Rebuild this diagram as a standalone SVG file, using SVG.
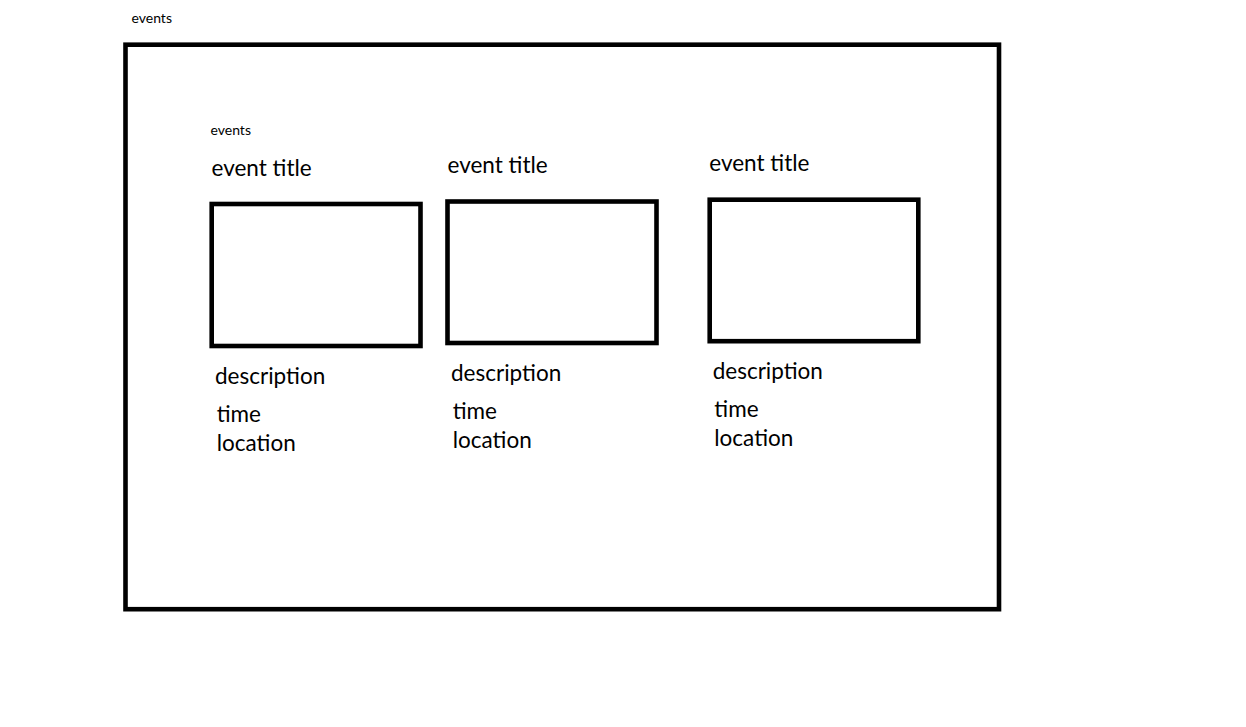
<svg xmlns="http://www.w3.org/2000/svg" width="1246" height="727" viewBox="0 0 1246 727">
<style>
.frame{fill:none;stroke:#000;stroke-width:4.6}
.sm{font-family:Lato,"Open Sans",sans-serif;font-size:14px;fill:#000}
.lg{font-family:Lato,"Open Sans",sans-serif;font-size:22.5px;fill:#000}
</style>
<rect width="1246" height="727" fill="#fff"/>
<g id="page">
<text class="sm" x="131.5" y="23">events</text>
<rect class="frame" x="125.5" y="44.7" width="873.5" height="564.5"/>
<text class="sm" x="210.5" y="135.3">events</text>
</g>
<g id="event1">
<text class="lg" x="211.5" y="176.3">event title</text>
<rect class="frame" x="211.7" y="204" width="208.8" height="142"/>
<text class="lg" x="215" y="384">description</text>
<text class="lg" x="216.7" y="422.3">time</text>
<text class="lg" x="216.7" y="450.8">location</text>
</g>
<g id="event2">
<text class="lg" x="447.5" y="173.2">event title</text>
<rect class="frame" x="447.5" y="201.5" width="209" height="141.5"/>
<text class="lg" x="451" y="381.4">description</text>
<text class="lg" x="452.7" y="419">time</text>
<text class="lg" x="452.7" y="448">location</text>
</g>
<g id="event3">
<text class="lg" x="709.3" y="171.4">event title</text>
<rect class="frame" x="709.7" y="199.7" width="208.6" height="141.5"/>
<text class="lg" x="712.7" y="379">description</text>
<text class="lg" x="714.3" y="417.4">time</text>
<text class="lg" x="714.3" y="446.4">location</text>
</g>
<g id="connectors"/>
</svg>
